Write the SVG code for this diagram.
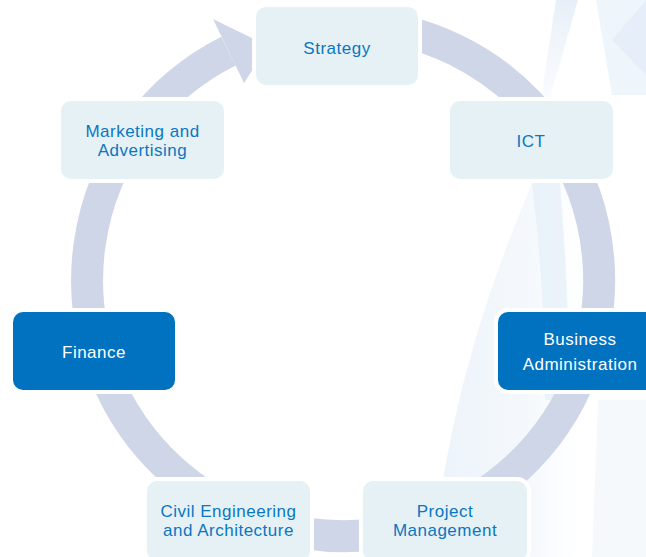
<svg xmlns="http://www.w3.org/2000/svg" width="646" height="557" viewBox="0 0 646 557">
  <defs>
    <linearGradient id="sailFade" x1="0" y1="0" x2="1" y2="0">
      <stop offset="0" stop-color="#e9f1f9" stop-opacity="0.9"/>
      <stop offset="0.6" stop-color="#f1f6fb" stop-opacity="0.7"/>
      <stop offset="1" stop-color="#ffffff" stop-opacity="0"/>
    </linearGradient>
    <linearGradient id="stripFade" x1="0" y1="0" x2="0" y2="1">
      <stop offset="0" stop-color="#dde9f6" stop-opacity="0.9"/>
      <stop offset="1" stop-color="#e8f0f9" stop-opacity="0.3"/>
    </linearGradient>
    <style>
      .node rect { stroke: #ffffff; stroke-width: 8; paint-order: stroke; }
      .light rect { fill: #e5f1f4; }
      .dark rect { fill: #0072bf; }
      .node text { font-family: "Liberation Sans", Arial, sans-serif; font-size: 17px; letter-spacing: 0.5px; text-anchor: middle; }
      .light text { fill: #0b76c2; }
      .dark text { fill: #ffffff; }
      .ring { fill: none; stroke: #cfd6e7; stroke-width: 32; }
      .head { fill: #cfd6e7; }
    </style>
  </defs>

  <rect width="646" height="557" fill="#ffffff"/>

  <!-- faint decorative sweeps in the background -->
  <g id="backdrop">
    <path d="M 532 183 C 500 260 452 380 432 557 L 600 557 L 600 183 Z" fill="url(#sailFade)"/>
    <path d="M 532 183 L 560 183 C 566 260 570 330 568 400 L 545 400 C 545 320 540 250 532 183 Z" fill="#e4eef8" opacity="0.7"/>
    <path d="M 556 0 L 578 0 L 550 98 L 541 98 Z" fill="url(#stripFade)" opacity="0.8"/>
    <path d="M 596 0 L 646 0 L 646 95 L 612 95 Z" fill="#eaf2fa" opacity="0.8"/>
    <path d="M 612 40 L 646 0 L 646 75 Z" fill="#e2edf8" opacity="0.7"/>
    <path d="M 598 400 L 646 400 L 646 557 L 592 557 Z" fill="#f2f7fb" opacity="0.8"/>
  </g>

  <!-- cycle arrow -->
  <g id="connectors">
    <path class="ring" d="M 343 24 A 256 256 0 1 1 228.5 51.1"/>
    <polygon class="head" points="213,19 244,83 268,46"/>
  </g>

  <g id="strategy" class="node light">
    <rect x="256" y="7" width="162" height="78" rx="10"/>
    <text x="337" y="54">Strategy</text>
  </g>

  <g id="ict" class="node light">
    <rect x="450" y="101" width="163" height="78" rx="10"/>
    <text x="531" y="147">ICT</text>
  </g>

  <g id="business-administration" class="node dark">
    <rect x="498" y="312" width="163" height="78" rx="10"/>
    <text x="580" y="345">Business</text>
    <text x="580" y="370">Administration</text>
  </g>

  <g id="project-management" class="node light">
    <rect x="363" y="481" width="164" height="80" rx="10"/>
    <text x="445" y="516.5">Project</text>
    <text x="445" y="535.5">Management</text>
  </g>

  <g id="civil-engineering" class="node light">
    <rect x="147" y="481" width="163" height="80" rx="10"/>
    <text x="228.5" y="516.5">Civil Engineering</text>
    <text x="228.5" y="535.5">and Architecture</text>
  </g>

  <g id="finance" class="node dark">
    <rect x="13" y="312" width="162" height="78" rx="10"/>
    <text x="94" y="358">Finance</text>
  </g>

  <g id="marketing" class="node light">
    <rect x="61" y="101" width="163" height="78" rx="10"/>
    <text x="142.5" y="137">Marketing and</text>
    <text x="142.5" y="156">Advertising</text>
  </g>
</svg>
